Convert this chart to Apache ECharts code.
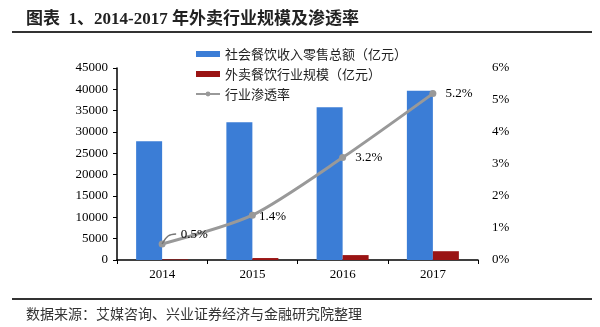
<!DOCTYPE html>
<html>
<head>
<meta charset="utf-8">
<script src="https://cdn.jsdelivr.net/npm/echarts@6/dist/echarts.min.js"></script>
<style>
  html, body { margin: 0; padding: 0; background: #fff; }
  #chart { width: 600px; height: 327px; }
</style>
</head>
<body>
<div id="chart"></div>
<script>
// 2014-2017 restaurant retail revenue, takeout market size and penetration rate
const categories = ['2014', '2015', '2016', '2017'];
const revenueTotal = [27860, 32310, 35799, 39644];   // 社会餐饮收入零售总额（亿元）
const takeoutScale = [140, 460, 1150, 2060];         // 外卖餐饮行业规模（亿元）
const penetration = [0.5, 1.4, 3.2, 5.2];            // 行业渗透率（%）
const leftTicks = { min: 0, max: 45000, interval: 5000 };
const rightTicks = { min: 0, max: 6, interval: 1 };

const seriesNames = ['社会餐饮收入零售总额（亿元）', '外卖餐饮行业规模（亿元）', '行业渗透率'];
const titleText = '图表  1、2014-2017 年外卖行业规模及渗透率';
const sourceText = '数据来源：艾媒咨询、兴业证券经济与金融研究院整理';

const SERIF = "'Liberation Serif', 'Noto Sans CJK SC', serif";
const CJK = "'Noto Sans CJK SC', sans-serif";

const chart = echarts.init(document.getElementById('chart'), null, { renderer: 'canvas' });

chart.setOption({
  animation: false,
  backgroundColor: '#ffffff',
  title: [
    {
      text: titleText,
      left: 21, top: 6,
      textStyle: { fontFamily: SERIF, fontSize: 17, fontWeight: 'bold', color: '#222' }
    },
    {
      text: sourceText,
      left: 21, top: 302,
      textStyle: { fontFamily: CJK, fontSize: 14, fontWeight: 'normal', color: '#333' }
    }
  ],
  graphic: [
    { type: 'line', shape: { x1: 12, y1: 32, x2: 592, y2: 32 }, style: { stroke: '#333', lineWidth: 2 } },
    { type: 'line', shape: { x1: 12, y1: 299, x2: 592, y2: 299 }, style: { stroke: '#333', lineWidth: 2 } }
  ],
  legend: {
    orient: 'vertical',
    left: 195, top: 47,
    padding: 0,
    itemWidth: 24, itemHeight: 6, itemGap: 6,
    textStyle: { fontFamily: CJK, fontSize: 13, color: '#222', lineHeight: 14 },
    data: [
      { name: seriesNames[0], icon: 'rect' },
      { name: seriesNames[1], icon: 'rect' },
      { name: seriesNames[2] }
    ]
  },
  grid: { left: 117, right: 122, top: 68, bottom: 67, containLabel: false },
  xAxis: {
    type: 'category',
    data: categories,
    boundaryGap: true,
    axisLine: { lineStyle: { color: '#000', width: 1.5 } },
    axisTick: { show: true, length: 4, alignWithLabel: false, lineStyle: { color: '#000' } },
    axisLabel: { fontFamily: SERIF, fontSize: 13, color: '#000', margin: 8 }
  },
  yAxis: [
    {
      type: 'value',
      min: leftTicks.min, max: leftTicks.max, interval: leftTicks.interval,
      axisLine: { show: true, lineStyle: { color: '#000', width: 1.5 } },
      axisTick: { show: true, length: 4, inside: false, lineStyle: { color: '#000' } },
      axisLabel: {
        fontFamily: SERIF, fontSize: 13, color: '#000', margin: 9,
        formatter: function (v) { return String(v); }
      },
      splitLine: { show: false }
    },
    {
      type: 'value',
      position: 'right',
      min: rightTicks.min, max: rightTicks.max, interval: rightTicks.interval,
      axisLine: { show: false },
      axisTick: { show: false },
      axisLabel: { fontFamily: SERIF, fontSize: 13, color: '#000', margin: 14, formatter: '{value}%' },
      splitLine: { show: false }
    }
  ],
  series: [
    {
      name: seriesNames[0],
      type: 'bar',
      yAxisIndex: 0,
      data: revenueTotal,
      barWidth: 26,
      barGap: '0%',
      itemStyle: { color: '#3b7dd6' }
    },
    {
      name: seriesNames[1],
      type: 'bar',
      yAxisIndex: 0,
      data: takeoutScale,
      barWidth: 26,
      barGap: '0%',
      itemStyle: { color: '#9a1414' }
    },
    {
      name: seriesNames[2],
      type: 'line',
      yAxisIndex: 1,
      data: penetration,
      smooth: 0.25,
      symbol: 'circle',
      symbolSize: 7,
      z: 5,
      lineStyle: { color: '#999999', width: 3 },
      itemStyle: { color: '#999999' },
      label: {
        show: true,
        position: 'right',
        distance: 9,
        formatter: '{c}%',
        fontFamily: SERIF, fontSize: 13, color: '#000'
      },
      labelLayout: function (params) {
        if (params.dataIndex === 0) {
          return { dx: 6, dy: -9 };
        }
        if (params.dataIndex === 1) {
          return { dx: -6, dy: 1 };
        }
        return {};
      }
    }
  ]
});

// leader line from the first rate point to its lifted label
const p0 = chart.convertToPixel({ xAxisIndex: 0, yAxisIndex: 1 }, [categories[0], penetration[0]]);
chart.setOption({
  graphic: [
    {
      id: 'leader0',
      type: 'polyline',
      z: 10,
      shape: { points: [[p0[0], p0[1]], [p0[0] + 6, p0[1] - 8], [p0[0] + 14, p0[1] - 10]], smooth: 0.4 },
      style: { stroke: '#777', lineWidth: 1.5, fill: null }
    }
  ]
});
</script>
</body>
</html>
